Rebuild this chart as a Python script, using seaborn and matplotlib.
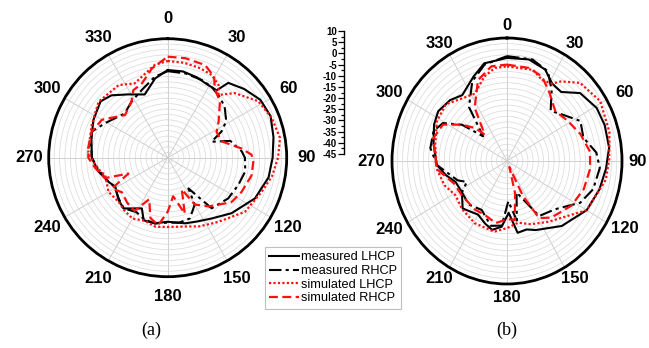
import numpy as np
import pandas as pd
import matplotlib
matplotlib.use("Agg")
import matplotlib.pyplot as plt
import seaborn as sns

# ---- data (angle in deg, gain in dB) ----
# panel (a)
a_mlhcp_ang = [0, 10, 20, 28, 36, 39, 48, 58, 68, 79, 90, 101, 115, 131, 144, 155, 165, 180, 191, 201, 207,
               221, 229, 241, 248, 259, 270, 285, 297, 310, 318, 328, 340, 351, 360]
a_mlhcp_db = [-4.5, -4.5, -5.5, -6.5, -6.5, -0.5, 2.5, 5.5, 6.3, 4.8, 3.5, 2.5, -0.5, -5.9, -10.3, -12.5, -13.6,
              -15.4, -14.1, -14, -18.7, -13.9, -15, -17.3, -15.4, -12.3, -9.9, -8.5, -6.5, -4.5, -6.2, -10.5,
              -13.9, -7.9, -4.5]

a_mrhcp_ang = [0, 12, 24, 32, 40, 48, 58, 64, 70, 75, 85, 90, 100, 111, 124, 139, 146, 150, 160, 170, 180,
               191, 201, 210, 221, 230, 241, 250, 260, 270, 280, 289, 299, 316, 327, 339, 351, 360]
a_mrhcp_db = [-5, -5.2, -5.8, -6.5, -8, -9.6, -13.1, -17.3, -23.4, -15, -10.7, -9.3, -8.6, -10, -11.3, -14,
              -27.9, -20, -15.1, -14.5, -15, -14, -14.5, -16, -14, -15.5, -17, -15, -12.5, -10, -9, -7.9, -12,
              -16.5, -14.2, -11.5, -7.1, -5]

a_slhcp_ang = [0, 10, 20, 28, 35, 39, 46, 58, 69, 80, 90, 100, 110, 125, 142, 155, 166, 180, 190, 200, 210,
               220, 228, 240, 254, 262, 270, 274, 293, 309, 326, 336, 352, 360]
a_slhcp_db = [-0.3, -0.5, -1, -1.7, -4, -7.7, -2, 4.3, 6.5, 7.7, 6, 4, 1.2, -1.4, -7.3, -10, -12.2, -13,
              -12.6, -14, -12.5, -13.5, -14.5, -13.4, -15, -12, -9.5, -8.2, -6.8, -3.9, -4.5, -7.4, -1.7, -0.3]

a_srhcp_ang = [0, 10, 22, 30, 34, 43, 55, 62, 73, 83, 88, 93, 102, 115, 125, 140, 150, 156, 163, 172, 180,
               188, 196, 204, 212, 222, 233, 241, 248, 252, 262, 270, 277, 289, 300, 315, 327, 333, 341, 350, 360]
a_srhcp_db = [1.7, 1.7, 1.2, -2, -6.2, -9.6, -16.3, -19.4, -19, -10.5, -6.2, -5.4, -5.4, -7.4, -9.1, -15.6,
              -20, -29, -18, -27, -20, -13.5, -16, -24, -16, -17, -18.5, -15.5, -25.4, -14.5, -11.1, -8.3, -8,
              -7.9, -9.9, -17.1, -14.2, -10, -8.6, -3.1, 1.7]

# panel (b)
b_mlhcp_ang = [0, 13, 24, 32, 40, 49, 61, 71, 83, 94, 106, 120, 138, 156, 163, 171, 178, 185, 193, 200, 210,
               225, 237, 249, 258, 267, 282, 295, 304, 315, 324, 337, 346, 360]
b_mlhcp_db = [1.1, 1.6, -0.2, -4.2, -4.7, 1.3, 4, 4.4, 4.2, 2.5, 1, -1, -5.9, -11.2, -13, -12.5, -21.8, -15.5,
              -13.4, -15, -17.3, -15, -19.3, -18.7, -15, -11.4, -9.1, -6.5, -5.3, -6.5, -8.6, -4, 0, 1.1]

b_mrhcp_ang = [0, 15, 26, 34, 43, 51, 63, 74, 85, 94, 107, 118, 133, 148, 162, 170, 178, 185, 195, 209, 223,
               237, 244, 250, 267, 279, 291, 299, 307, 314, 323, 335, 346, 360]
b_mrhcp_db = [1.9, 2, -0.4, -6.8, -14.4, -11.7, -5.6, -7, -2.1, -0.5, -1.9, -5.3, -13.4, -16, -30.2, -18, -27,
              -16, -15, -20, -18.3, -19.3, -23.6, -19.8, -11.4, -7.9, -7.4, -10, -18.1, -29.1, -14.8, -5.7,
              -0.6, 1.9]

b_slhcp_ang = [0, 17, 25, 32, 36, 45, 59, 75, 89, 100, 120, 144, 158, 169, 180, 191, 209, 225, 238, 250, 264,
               282, 298, 311, 325, 333, 344, 352, 360]
b_slhcp_db = [-2.7, -2.4, -5.1, -4.2, -1, 4.4, 7, 5.7, 3.9, 3, -1, -11.4, -14.5, -16.9, -15, -12.8, -13.2,
              -14.6, -16, -13.2, -11.2, -9.9, -7, -6.3, -10.2, -11.2, -5.7, -3, -2.7]

b_srhcp_ang = [0, 14, 24, 34, 46, 58, 71, 84, 95, 109, 123, 140, 149, 154, 157, 165, 172, 180, 191, 204, 215,
               234, 248, 264, 286, 298, 307, 314, 318, 327, 339, 350, 360]
b_srhcp_db = [-1.9, -2.1, -3.7, -8.5, -12.9, -10.9, -7.9, -5.1, -5.1, -6.2, -8.3, -12, -15.2, -27.6, -42, -30,
              -18.4, -19, -16.7, -18.7, -18.4, -18.5, -17.8, -11.2, -8.3, -10.3, -18, -23.8, -29.1, -16.6,
              -6.3, -2, -1.9]

series_labels = ["measured LHCP", "measured RHCP", "simulated LHCP", "simulated RHCP"]
theta_labels = ["0", "30", "60", "90", "120", "150", "180", "210", "240", "270", "300", "330"]
scale_ticks = [10, 5, 0, -5, -10, -15, -20, -25, -30, -35, -40, -45]

plt.rcParams["font.family"] = ["Liberation Sans", "DejaVu Sans"]

W, H = 649, 348
styles = [
    dict(color="black", linestyle="-", linewidth=1.5),
    dict(color="black", linestyle=(0, (6, 2, 1.5, 2)), linewidth=1.5),
    dict(color="#ff1010", linestyle=(0, (1, 1)), linewidth=1.6),
    dict(color="#ff1010", linestyle=(0, (4, 2)), linewidth=1.6),
]

fig = plt.figure(figsize=(W / 100, H / 100), dpi=100)


def polar_panel(cx, cy, rx, ry, curves, label_r):
    rect = [(cx - rx) / W, (H - cy - ry) / H, 2 * rx / W, 2 * ry / H]
    ax = fig.add_axes(rect, projection="polar")
    for (ang, db), lab, st in zip(curves, series_labels, styles):
        df = pd.DataFrame({"theta": np.deg2rad(ang), "r": db})
        sns.lineplot(data=df, x="theta", y="r", ax=ax, sort=False, estimator=None,
                     label=lab, legend=False, **st)
    ax.set_aspect("auto")
    ax.set_theta_zero_location("N")
    ax.set_theta_direction(-1)
    ax.set_ylim(-45, 10)
    ax.set_rticks(np.arange(-42.5, 10, 2.5))
    ax.set_yticklabels([])
    ax.set_xticks(np.deg2rad(np.arange(0, 360, 30)))
    ax.set_xticklabels([])
    ax.set_xticks(np.deg2rad(np.arange(0, 360, 10)), minor=True)
    ax.tick_params(axis="x", which="major", direction="in", length=6, width=1.2)
    ax.tick_params(axis="x", which="minor", direction="in", length=3, width=1.0)
    ax.grid(True, color="#d8d8d8", linewidth=0.5)
    ax.xaxis.grid(True, color="#c8c8c8", linewidth=0.6)
    ax.spines["polar"].set_linewidth(2)
    ax.set_xlabel("")
    ax.set_ylabel("")
    # angle labels around the ring
    for lab, a in zip(theta_labels, np.deg2rad(np.arange(0, 360, 30))):
        x = min(cx + label_r * np.sin(a), W - 11)
        y = cy - label_r * np.cos(a)
        fig.text(x / W, 1 - y / H, lab, ha="center", va="center", fontsize=12, fontweight="bold")
    return ax


ax_a = polar_panel(167.7, 157.7, 119, 119,
                   [(a_mlhcp_ang, a_mlhcp_db), (a_mrhcp_ang, a_mrhcp_db),
                    (a_slhcp_ang, a_slhcp_db), (a_srhcp_ang, a_srhcp_db)], 139)
ax_b = polar_panel(507, 161, 115, 123,
                   [(b_mlhcp_ang, b_mlhcp_db), (b_mrhcp_ang, b_mrhcp_db),
                    (b_slhcp_ang, b_slhcp_db), (b_srhcp_ang, b_srhcp_db)], 136)

# radial scale bar between the panels
ax_s = fig.add_axes([344 / W, 1 - 154 / H, 0.001, 123 / H])
ax_s.set_ylim(-45, 10)
ax_s.set_yticks(scale_ticks)
ax_s.set_yticklabels([str(t) for t in scale_ticks], fontsize=7, fontweight="bold")
ax_s.set_yticks(np.arange(-42.5, 10, 5), minor=True)
ax_s.tick_params(axis="y", which="major", direction="out", length=4, width=0.9, pad=1)
ax_s.tick_params(axis="y", which="minor", direction="out", length=2.5, width=0.9)
ax_s.set_xticks([])
for s in ["top", "right", "bottom"]:
    ax_s.spines[s].set_visible(False)
ax_s.spines["left"].set_linewidth(1.0)

# legend
handles, labels = ax_a.get_legend_handles_labels()
leg = fig.legend(handles, labels, loc="upper left", bbox_to_anchor=(265 / W, 1 - 247 / H),
                 fontsize=9.2, frameon=True, fancybox=False, edgecolor="#b0b0b0",
                 handlelength=2.3, handletextpad=0.15, labelspacing=0.12, borderpad=0.35,
                 borderaxespad=0)
leg.get_frame().set_linewidth(0.8)

fig.text(151 / W, 1 - 330 / H, "(a)", ha="center", va="center", fontsize=13,
         family=["Liberation Serif", "DejaVu Serif"])
fig.text(507 / W, 1 - 330 / H, "(b)", ha="center", va="center", fontsize=13,
         family=["Liberation Serif", "DejaVu Serif"])

fig.savefig("out.png", dpi=100)
